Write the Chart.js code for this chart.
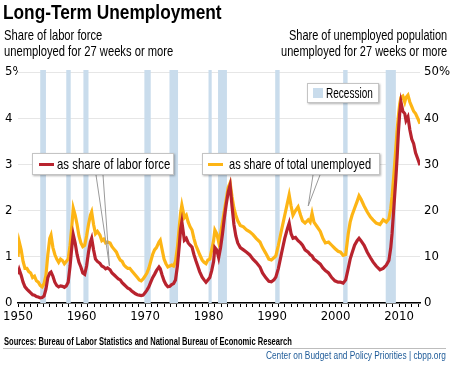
<!DOCTYPE html>
<html>
<head>
<meta charset="utf-8">
<title>Long-Term Unemployment</title>
<script src="https://cdn.jsdelivr.net/npm/chart.js@4.4.1/dist/chart.umd.min.js"></script>
<style>
  body { margin: 0; background: #fff; }
  #box { position: relative; width: 450px; height: 366px; overflow: hidden; color: #000;
    font-family: "Liberation Sans", Arial, sans-serif; }
  #box canvas { position: absolute; left: 0; top: 0; }
  .txt { position: absolute; white-space: nowrap; transform-origin: 0 50%; }
  .title { left: 3px; top: 0; font-size: 21px; font-weight: bold; line-height: 24px; }
  .subL { left: 4px; top: 28px; font-size: 14.5px; line-height: 15.5px; }
  .subR { right: 3px; top: 28px; font-size: 14.5px; line-height: 15.5px; text-align: right; transform-origin: 100% 50%; }
  .key { position: absolute; box-sizing: border-box; background: #fff; border: 1px solid #c4c4c4;
    box-shadow: 1px 1px 2px rgba(0, 0, 0, 0.3); font-size: 14.5px; white-space: nowrap; }
  .key .sw { position: absolute; }
  .key .lbl { position: absolute; top: 0; line-height: 20px; white-space: nowrap; transform-origin: 0 50%; }
  .src { left: 4px; top: 335px; font-size: 10.5px; font-weight: bold; line-height: 12px; }
  .rule { position: absolute; left: 3px; width: 443px; top: 348px; border-top: 1px solid #bdbdbd; }
  .credit { right: 4px; top: 349px; font-size: 10.5px; line-height: 12px; color: #1d5a98; transform-origin: 100% 50%; }
</style>
</head>
<body>
<div id="box">
  <canvas id="longterm" width="450" height="366"></canvas>
  <div class="txt title" data-fit="219">Long-Term Unemployment</div>
  <div class="txt subL" data-fit="169">Share of labor force<br>unemployed for 27 weeks or more</div>
  <div class="txt subR" data-fit="166">Share of unemployed population<br>unemployed for 27 weeks or more</div>

  <div class="key" style="left:307px;top:83px;width:72px;height:20px;">
    <span class="sw" style="left:5px;top:4px;width:10px;height:10px;background:#c9dcec;"></span>
    <span class="lbl" data-fit="47" style="left:18px;line-height:18px;">Recession</span>
  </div>
  <div class="key" style="left:32px;top:153px;width:142px;height:22px;">
    <span class="sw" style="left:6px;top:9px;width:15px;height:3px;background:#b8232e;"></span>
    <span class="lbl" data-fit="113" style="left:24px;">as share of labor force</span>
  </div>
  <div class="key" style="left:202px;top:153px;width:178px;height:22px;">
    <span class="sw" style="left:5px;top:9px;width:15px;height:3px;background:#fdb515;"></span>
    <span class="lbl" data-fit="142" style="left:26px;">as share of total unemployed</span>
  </div>

  <div class="txt src" data-fit="288">Sources: Bureau of Labor Statistics and National Bureau of Economic Research</div>
  <div class="rule"></div>
  <div class="txt credit" data-fit="180">Center on Budget and Policy Priorities | cbpp.org</div>
</div>

<script>
  // =============== data ==================//
  const years = [
    1950.0, 1950.2, 1950.5, 1950.8, 1951.1, 1951.4, 1951.7, 1952.0, 1952.3, 1952.6,
    1952.9, 1953.2, 1953.5, 1953.8, 1954.1, 1954.4, 1954.7, 1955.0, 1955.2, 1955.5,
    1955.8, 1956.1, 1956.4, 1956.7, 1957.0, 1957.3, 1957.6, 1957.9, 1958.2, 1958.5,
    1958.7, 1959.0, 1959.3, 1959.6, 1959.9, 1960.2, 1960.5, 1960.8, 1961.1, 1961.4,
    1961.6, 1961.9, 1962.2, 1962.5, 1962.9, 1963.2, 1963.5, 1963.8, 1964.1, 1964.5,
    1964.8, 1965.2, 1965.5, 1965.8, 1966.1, 1966.4, 1966.7, 1967.0, 1967.3, 1967.6,
    1967.9, 1968.2, 1968.5, 1968.8, 1969.1, 1969.4, 1969.7, 1970.0, 1970.3, 1970.6,
    1970.9, 1971.2, 1971.5, 1971.8, 1972.2, 1972.4, 1972.7, 1973.0, 1973.3, 1973.6,
    1973.9, 1974.2, 1974.5, 1974.8, 1975.1, 1975.4, 1975.6, 1975.8, 1976.2, 1976.5,
    1976.8, 1977.1, 1977.4, 1977.7, 1978.0, 1978.3, 1978.6, 1979.0, 1979.3, 1979.6,
    1979.9, 1980.2, 1980.5, 1980.8, 1981.0, 1981.3, 1981.6, 1981.9, 1982.2, 1982.5,
    1982.8, 1983.1, 1983.4, 1983.7, 1984.0, 1984.3, 1984.6, 1985.0, 1985.5, 1986.0,
    1986.5, 1987.0, 1987.5, 1988.1, 1988.5, 1989.0, 1989.5, 1989.9, 1990.3, 1990.6,
    1991.0, 1991.5, 1992.0, 1992.4, 1992.7, 1993.0, 1993.3, 1993.7, 1994.1, 1994.5,
    1994.8, 1995.2, 1995.7, 1996.0, 1996.3, 1996.6, 1997.1, 1997.6, 1998.0, 1998.4,
    1998.9, 1999.4, 1999.9, 2000.4, 2000.8, 2001.2, 2001.6, 2002.0, 2002.3, 2002.6,
    2003.0, 2003.4, 2003.7, 2004.0, 2004.5, 2005.0, 2005.5, 2005.9, 2006.4, 2007.0,
    2007.5, 2008.0, 2008.4, 2008.7, 2008.9, 2009.2, 2009.5, 2009.7, 2009.9, 2010.1,
    2010.3, 2010.6, 2010.9, 2011.1, 2011.4, 2011.7, 2012.0, 2012.3, 2012.6, 2013.0,
    2013.3,
  ];

  // % of labor force unemployed 27+ weeks (left axis)
  const laborForceShare = [
    0.62, 0.72, 0.6, 0.45, 0.35, 0.3, 0.26, 0.22, 0.18, 0.17,
    0.14, 0.13, 0.11, 0.12, 0.15, 0.3, 0.55, 0.65, 0.67, 0.58,
    0.45, 0.38, 0.35, 0.37, 0.36, 0.34, 0.37, 0.45, 0.8, 1.25,
    1.48, 1.3, 1.05, 0.88, 0.78, 0.65, 0.62, 0.8, 1.1, 1.32,
    1.4, 1.15, 0.95, 0.9, 0.86, 0.8, 0.78, 0.74, 0.76, 0.72,
    0.65, 0.6, 0.56, 0.52, 0.5, 0.44, 0.4, 0.36, 0.32, 0.3,
    0.26, 0.23, 0.2, 0.18, 0.17, 0.16, 0.17, 0.22, 0.28, 0.35,
    0.45, 0.55, 0.62, 0.7, 0.78, 0.74, 0.6, 0.48, 0.4, 0.35,
    0.36, 0.4, 0.42, 0.5, 0.8, 1.25, 1.6, 1.76, 1.36, 1.4,
    1.3, 1.25, 1.21, 1.05, 0.92, 0.8, 0.68, 0.56, 0.5, 0.45,
    0.5, 0.55, 0.7, 0.9, 1.2, 1.15, 0.98, 1.2, 1.5, 1.85,
    2.15, 2.4, 2.55, 2.1, 1.7, 1.45, 1.3, 1.2, 1.15, 1.1,
    1.04, 0.95, 0.88, 0.78, 0.65, 0.55, 0.47, 0.46, 0.5, 0.56,
    0.75, 1.08, 1.4, 1.6, 1.73, 1.5, 1.4, 1.42, 1.35, 1.3,
    1.25, 1.15, 1.1, 1.05, 1.02, 0.95, 0.9, 0.84, 0.76, 0.7,
    0.65, 0.55, 0.48, 0.45, 0.45, 0.43, 0.5, 0.75, 0.95, 1.08,
    1.25, 1.35, 1.4, 1.35, 1.25, 1.1, 0.98, 0.89, 0.8, 0.72,
    0.75, 0.82, 0.92, 1.2, 1.5, 2.1, 2.7, 3.16, 3.7, 4.1,
    4.35, 4.15, 4.1, 3.95, 4.03, 3.75, 3.55, 3.45, 3.25, 3.1,
    2.98,
  ];

  // % of unemployed who are unemployed 27+ weeks (right axis)
  const unemployedShare = [
    10, 13.2, 11.5, 9, 7.5, 7.5, 6.8, 6.5, 5.5, 5.8,
    4.8, 4.5, 3.8, 3.5, 4.2, 6, 10.5, 14, 14.7, 12,
    10.5, 9.5, 8.8, 9.5, 9.2, 8.5, 9, 9.5, 12.5, 17,
    20.5, 19, 17, 14.5, 13, 12.2, 12.5, 14.5, 17, 19,
    19.7, 17, 15, 15.5, 14.7, 13.5, 13.8, 13, 13.2, 13,
    12.2, 11.5, 11, 10, 9.3, 9, 8.2, 7.8, 7.5, 7.5,
    7, 6.5, 6, 5.5, 5, 4.8, 5.2, 5.8, 6.5, 7.5,
    9, 10.5, 11.5, 12, 13.2, 13.6, 11.5, 9.5, 8.5, 7.8,
    8, 8.2, 8, 9, 12, 16.5, 19.5, 21.2, 18.5, 19,
    17.5, 16.5, 15.8, 14, 12.5, 11.5, 10.5, 9.3, 8.8, 8.5,
    9.3, 9.5, 11.5, 13.5, 15.8, 15, 13.2, 15, 17.5, 20,
    22.5, 25, 26, 23, 20.5, 19, 17.8, 16.8, 16.5, 15.8,
    15.4, 14.8, 14, 13.2, 12, 10.8, 9.5, 9.3, 9.8, 10.2,
    12.5, 15.8, 19, 21.5, 23.4, 21, 19, 20, 20.8, 19,
    17.8, 17.3, 18, 17.5, 19.4, 17.5, 16.5, 15.5, 14, 13,
    13.2, 12.5, 11.8, 11.2, 11, 10.3, 10.5, 15, 17.5, 19,
    20.5, 22, 23.2, 22.5, 21, 19.7, 18.6, 18, 17.3, 17,
    18, 17.5, 18.2, 20.5, 23, 28, 33.5, 37.4, 40.5, 43,
    44.5, 44.8, 43.5, 44.5, 45, 43.5, 42.5, 41.5, 41, 39.8,
    38.8,
  ];

  // NBER recessions (decimal years)
  const recessionStart = [1953.5, 1957.6, 1960.3, 1969.9, 1973.85, 1980.0, 1981.5, 1990.5, 2001.2, 2007.9];
  const recessionEnd = [1954.4, 1958.3, 1961.1, 1970.9, 1975.2, 1980.5, 1982.9, 1991.2, 2001.9, 2009.5];

  const RED = "#b8232e";
  const GOLD = "#fdb515";
  const BAND = "#c9dcec";

  // squeeze the html labels to the condensed widths of the original
  document.querySelectorAll("[data-fit]").forEach(function (el) {
    const target = parseFloat(el.dataset.fit);
    el.style.transform = "scaleX(" + (target / el.offsetWidth).toFixed(3) + ")";
  });

  Chart.defaults.font.family = '"DejaVu Sans Condensed", "Liberation Sans", sans-serif';
  Chart.defaults.color = "#000";

  // shaded recession bars behind the lines
  const recessionBands = {
    id: "recessionBands",
    beforeDatasetsDraw(chart) {
      const { ctx, chartArea, scales } = chart;
      ctx.save();
      ctx.fillStyle = BAND;
      recessionStart.forEach(function (start, i) {
        const x1 = scales.x.getPixelForValue(start);
        const x2 = scales.x.getPixelForValue(recessionEnd[i]);
        ctx.fillRect(x1, chartArea.top - 2, x2 - x1, chartArea.bottom - chartArea.top + 2);
      });
      ctx.restore();
    },
  };

  // thin wedge pointers from the legend boxes to the lines
  const callouts = [
    { axis: "yL", year: 1964.4, value: 0.8, left: 96, right: 103, base: 175 },
    { axis: "yR", year: 1995.7, value: 21, left: 313, right: 320, base: 175 },
  ];
  const calloutLines = {
    id: "calloutLines",
    afterDatasetsDraw(chart) {
      const { ctx, scales } = chart;
      ctx.save();
      ctx.strokeStyle = "#9a9a9a";
      ctx.lineWidth = 1;
      callouts.forEach(function (c) {
        const tx = scales.x.getPixelForValue(c.year);
        const ty = scales[c.axis].getPixelForValue(c.value);
        ctx.beginPath();
        ctx.moveTo(c.left, c.base);
        ctx.lineTo(tx, ty);
        ctx.lineTo(c.right, c.base);
        ctx.stroke();
      });
      ctx.restore();
    },
  };

  // =============== chart ==================//
  const longterm = document.getElementById("longterm");
  new Chart(longterm, {
    type: "line",
    plugins: [recessionBands, calloutLines],
    data: {
      datasets: [
        {
          label: "as share of labor force",
          data: years.map(function (yr, i) { return { x: yr, y: laborForceShare[i] }; }),
          yAxisID: "yL",
          borderColor: RED,
          borderWidth: 3.2,
          pointRadius: 0,
          fill: false,
          tension: 0,
        },
        {
          label: "as share of total unemployed",
          data: years.map(function (yr, i) { return { x: yr, y: unemployedShare[i] }; }),
          yAxisID: "yR",
          borderColor: GOLD,
          borderWidth: 3.2,
          pointRadius: 0,
          fill: false,
          tension: 0,
        },
      ],
    },
    options: {
      responsive: false,
      animation: false,
      events: [],
      layout: {
        padding: { top: 72, left: 5, right: 0, bottom: 39 },
      },
      scales: {
        x: {
          type: "linear",
          min: 1950,
          max: 2013.3,
          afterFit: function (axis) { axis.height = 24; },
          border: { display: true, color: "#000", width: 1.6 },
          grid: { drawOnChartArea: false, drawTicks: true, tickLength: 4, color: "#000" },
          ticks: {
            stepSize: 1,
            includeBounds: false,
            autoSkip: false,
            maxRotation: 0,
            padding: 2,
            font: { size: 13 },
            callback: function (value) {
              return value % 10 === 0 ? String(value) : "";
            },
          },
        },
        yL: {
          position: "left",
          min: 0,
          max: 5,
          afterFit: function (axis) { axis.width = 13; },
          border: { display: false },
          grid: { color: "#e6e6e6", drawTicks: false },
          ticks: {
            stepSize: 1,
            crossAlign: "far",
            padding: 0,
            font: { size: 13 },
            callback: function (value) {
              return value === 5 ? "5%" : value;
            },
          },
        },
        yR: {
          position: "right",
          min: 0,
          max: 50,
          afterFit: function (axis) { axis.width = 30; },
          border: { display: false },
          grid: { display: false, drawTicks: false },
          ticks: {
            stepSize: 10,
            crossAlign: "near",
            padding: 4,
            font: { size: 13 },
            callback: function (value) {
              return value === 50 ? "50%" : value;
            },
          },
        },
      },
      plugins: {
        legend: { display: false },
        tooltip: { enabled: false },
      },
    },
  });
</script>
</body>
</html>
